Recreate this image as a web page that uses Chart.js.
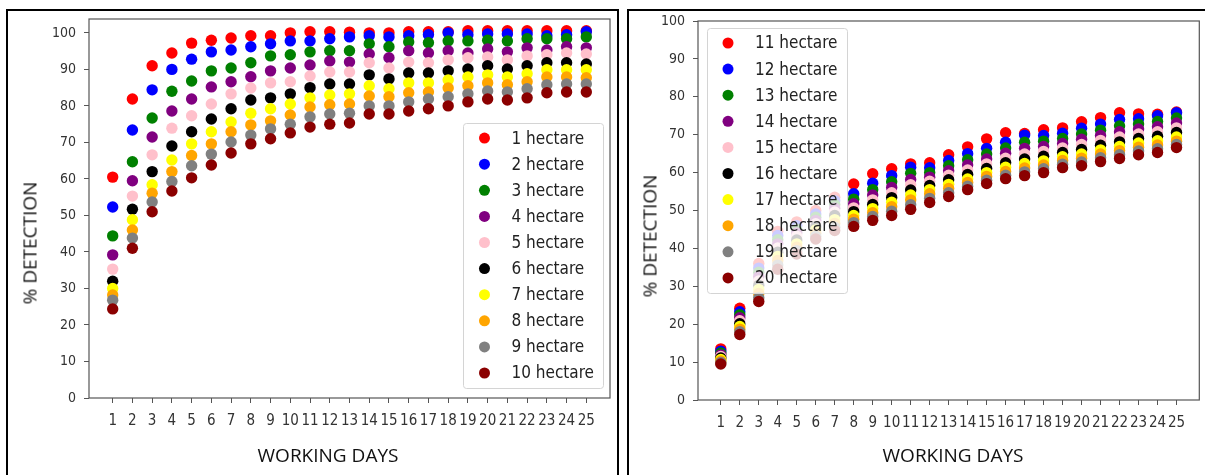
<!DOCTYPE html>
<html>
<head>
<meta charset="utf-8">
<script src="https://cdn.jsdelivr.net/npm/chart.js@4.4.0/dist/chart.umd.min.js"></script>
<style>
  body { margin: 0; background: #fff; }
  #page { position: relative; width: 1205px; height: 475px; overflow: hidden; }
  .frame { position: absolute; border: 2px solid #000; box-sizing: border-box; }
  canvas { position: absolute; top: 0; }
  .title { position: absolute; font-family: "Open Sans"; font-size: 19px; line-height: 1; color: #111; white-space: nowrap; transform: translate(-50%, -50%); }
  .title.v { transform: translate(-50%, -50%) rotate(-90deg); }
</style>
</head>
<body>
<div id="page">
  <div class="frame" style="left:6px; top:9px; width:613px; height:520px;"></div>
  <div class="frame" style="left:627px; top:9px; width:600px; height:520px;"></div>
  <canvas id="left" width="620" height="475" style="left:0px"></canvas>
  <canvas id="right" width="585" height="475" style="left:620px"></canvas>
  <div class="title v" style="left:30px; top:243px;">% DETECTION</div>
  <div class="title" style="left:328px; top:455px;">WORKING DAYS</div>
  <div class="title v" style="left:650px; top:236px;">% DETECTION</div>
  <div class="title" style="left:953px; top:455px;">WORKING DAYS</div>
</div>
<script>
var days = [1, 2, 3, 4, 5, 6, 7, 8, 9, 10, 11, 12, 13, 14, 15, 16, 17, 18, 19, 20, 21, 22, 23, 24, 25];
var yTicks = [0, 10, 20, 30, 40, 50, 60, 70, 80, 90, 100];
var colors = ['#ff0000', '#0000ff', '#008000', '#800080', '#ffc0cb', '#000000', '#ffff00', '#ffa500', '#808080', '#8b0000'];

var leftNames = ['1 hectare', '2 hectare', '3 hectare', '4 hectare', '5 hectare', '6 hectare', '7 hectare', '8 hectare', '9 hectare', '10 hectare'];
var rightNames = ['11 hectare', '12 hectare', '13 hectare', '14 hectare', '15 hectare', '16 hectare', '17 hectare', '18 hectare', '19 hectare', '20 hectare'];

// % detection per working day, 1 to 10 hectare
var ha1 = [60.5, 81.9, 91.0, 94.5, 97.2, 98.0, 98.6, 99.2, 99.2, 100.0, 100.3, 100.3, 100.2, 100.0, 100.0, 100.3, 100.3, 100.3, 100.6, 100.6, 100.6, 100.6, 100.6, 100.6, 100.6];
var ha2 = [52.3, 73.4, 84.4, 90.0, 92.8, 94.8, 95.3, 96.2, 97.0, 97.8, 97.8, 98.4, 98.9, 99.2, 98.9, 99.2, 99.5, 100.0, 99.5, 99.7, 99.7, 99.7, 99.2, 99.5, 100.3];
var ha3 = [44.4, 64.7, 76.7, 84.0, 86.8, 89.6, 90.4, 91.8, 93.7, 94.0, 94.8, 95.1, 95.1, 97.0, 96.2, 97.5, 97.3, 97.8, 97.8, 98.0, 97.8, 98.4, 98.4, 98.4, 98.9];
var ha4 = [39.2, 59.5, 71.5, 78.6, 81.9, 85.2, 86.6, 88.0, 89.6, 90.4, 91.2, 92.3, 92.0, 94.2, 93.2, 95.1, 94.5, 95.1, 94.5, 95.6, 94.8, 95.9, 95.3, 96.2, 95.9];
var ha5 = [35.3, 55.3, 66.6, 73.9, 77.3, 80.5, 83.3, 84.9, 86.3, 86.6, 88.2, 89.3, 89.3, 91.8, 90.4, 92.0, 91.8, 92.6, 93.2, 93.4, 92.6, 93.7, 94.0, 94.5, 94.2];
var ha6 = [32.0, 51.7, 62.0, 69.0, 72.9, 76.4, 79.2, 81.6, 82.2, 83.3, 85.0, 86.0, 86.0, 88.5, 87.4, 89.0, 89.0, 89.6, 90.1, 91.0, 90.1, 91.0, 91.8, 91.8, 91.5];
var ha7 = [30.0, 48.8, 58.4, 65.2, 69.6, 72.9, 75.6, 78.0, 79.2, 80.5, 82.2, 83.0, 83.3, 85.5, 84.7, 86.3, 86.3, 87.1, 87.9, 88.5, 87.9, 88.8, 89.9, 89.9, 89.9];
var ha8 = [28.2, 46.0, 56.1, 62.0, 66.4, 69.6, 72.9, 74.8, 75.9, 77.5, 79.7, 80.3, 80.5, 82.7, 82.5, 83.6, 83.8, 84.9, 85.5, 86.3, 85.8, 86.6, 87.9, 87.9, 87.7];
var ha9 = [26.8, 43.8, 53.7, 59.3, 63.6, 66.8, 70.1, 72.0, 73.7, 75.0, 77.0, 77.8, 78.0, 80.0, 80.0, 81.1, 81.9, 82.5, 83.3, 84.1, 83.8, 84.7, 85.8, 86.0, 86.0];
var ha10 = [24.4, 41.0, 51.0, 56.7, 60.3, 63.8, 67.1, 69.6, 71.0, 72.6, 74.2, 75.0, 75.3, 77.8, 77.8, 78.6, 79.2, 80.0, 81.1, 81.9, 81.6, 82.2, 83.6, 83.8, 83.8];

// % detection per working day, 11 to 20 hectare
var ha11 = [13.5, 24.2, 36.0, 44.5, 47.0, 50.0, 53.5, 57.0, 59.7, 61.0, 62.3, 62.6, 64.7, 66.8, 68.9, 70.5, 70.3, 71.3, 71.8, 73.4, 74.5, 75.8, 75.5, 75.4, 76.0];
var ha12 = [12.9, 23.3, 34.8, 43.4, 46.0, 49.1, 52.6, 54.4, 57.2, 59.2, 61.4, 61.3, 63.2, 65.0, 66.4, 68.0, 69.9, 69.8, 70.4, 71.7, 72.8, 74.0, 74.2, 75.0, 75.8];
var ha13 = [12.4, 22.5, 33.7, 42.3, 45.0, 48.2, 51.6, 53.0, 55.5, 57.6, 59.8, 60.0, 61.8, 63.4, 64.9, 66.5, 68.0, 68.3, 69.0, 70.2, 71.2, 72.3, 72.8, 73.5, 74.4];
var ha14 = [11.9, 21.7, 32.6, 41.2, 44.1, 47.4, 50.6, 51.8, 54.1, 56.1, 58.2, 58.8, 60.5, 62.0, 63.6, 65.1, 66.4, 66.9, 67.7, 68.8, 69.8, 70.8, 71.5, 72.1, 73.1];
var ha15 = [11.5, 20.9, 31.4, 40.1, 43.2, 46.5, 49.6, 50.7, 52.8, 54.7, 56.8, 57.7, 59.3, 60.7, 62.3, 63.8, 64.9, 65.6, 66.5, 67.4, 68.5, 69.4, 70.2, 70.8, 71.8];
var ha16 = [11.1, 20.1, 30.3, 39.0, 42.2, 45.7, 48.7, 49.7, 51.6, 53.4, 55.4, 56.6, 58.1, 59.5, 61.1, 62.6, 63.6, 64.3, 65.3, 66.1, 67.2, 68.1, 69.0, 69.6, 70.6];
var ha17 = [10.7, 19.4, 29.2, 37.9, 41.2, 44.9, 47.6, 48.7, 50.5, 52.2, 54.1, 55.5, 56.9, 58.3, 60.0, 61.4, 62.4, 63.1, 64.2, 64.9, 66.0, 66.9, 67.8, 68.4, 69.4];
var ha18 = [10.3, 18.7, 28.1, 36.8, 40.3, 44.0, 46.6, 47.7, 49.4, 51.0, 52.8, 54.4, 55.8, 57.4, 59.0, 60.3, 61.2, 62.0, 63.2, 63.8, 64.9, 65.8, 66.7, 67.3, 68.3];
var ha19 = [9.9, 18.0, 27.0, 35.6, 39.4, 43.2, 45.6, 46.8, 48.4, 49.8, 51.5, 53.2, 54.7, 56.4, 58.0, 59.3, 60.2, 61.0, 62.2, 62.8, 63.9, 64.7, 65.7, 66.3, 67.4];
var ha20 = [9.5, 17.3, 26.0, 34.5, 38.5, 42.5, 44.7, 45.8, 47.4, 48.7, 50.3, 52.1, 53.7, 55.5, 57.1, 58.4, 59.2, 60.0, 61.3, 61.8, 62.9, 63.7, 64.7, 65.3, 66.6];

var xFont = { family: 'DejaVu Sans Condensed', size: 15 };
var yFont = { family: 'DejaVu Sans Condensed', size: 14 };

// box round the plot area
var axesFrame = {
  id: 'axesFrame',
  afterDatasetsDraw: function(chart) {
    var a = chart.chartArea, ctx = chart.ctx;
    ctx.save();
    ctx.strokeStyle = '#555';
    ctx.lineWidth = 1.2;
    ctx.strokeRect(a.left, a.top, a.right - a.left, a.bottom - a.top);
    ctx.restore();
  }
};

// legend in a rounded, semi-transparent box inside the plot area
var boxLegend = {
  id: 'boxLegend',
  afterDatasetsDraw: function(chart, args, opts) {
    var a = chart.chartArea, ctx = chart.ctx;
    var sets = chart.data.datasets;
    var rowH = 26.1;
    ctx.save();
    ctx.font = '17px "DejaVu Sans Condensed"';
    var textW = 0;
    sets.forEach(function(d) { textW = Math.max(textW, ctx.measureText(d.label).width); });
    var w = 48 + textW + 9;
    var h = (sets.length - 1) * rowH + 30;
    var x0 = opts.corner == 'br' ? a.right - opts.dx - w : a.left + opts.dx;
    var y0 = opts.corner == 'br' ? a.bottom - opts.dy - h : a.top + opts.dy;
    ctx.beginPath();
    ctx.roundRect(Math.round(x0) + 0.5, Math.round(y0) + 0.5, Math.round(w), Math.round(h), 3);
    ctx.fillStyle = 'rgba(255,255,255,0.8)';
    ctx.fill();
    ctx.strokeStyle = '#d4d4d4';
    ctx.lineWidth = 1;
    ctx.stroke();
    ctx.textBaseline = 'middle';
    sets.forEach(function(d, i) {
      var cy = y0 + 15 + i * rowH;
      ctx.beginPath();
      ctx.arc(x0 + 21, cy, 5.5, 0, Math.PI * 2);
      ctx.fillStyle = d.backgroundColor;
      ctx.fill();
      ctx.fillStyle = '#222';
      ctx.fillText(d.label, x0 + 48, cy + 1);
    });
    ctx.restore();
  }
};

function makeChart(id, names, series, yMax, legendOpts, pad, yWidth, xHeight) {
  var datasets = names.map(function(name, i) {
    return {
      label: name,
      data: days.map(function(d, j) { return { x: d, y: series[i][j] }; }),
      backgroundColor: colors[i],
      borderWidth: 0,
      pointRadius: 5.7,
      pointHoverRadius: 5.7,
      order: names.length - i
    };
  });
  return new Chart(document.getElementById(id), {
    type: 'scatter',
    data: { datasets: datasets },
    plugins: [axesFrame, boxLegend],
    options: {
      responsive: false,
      animation: false,
      layout: { padding: pad },
      plugins: {
        legend: { display: false },
        tooltip: { enabled: false },
        boxLegend: legendOpts
      },
      scales: {
        x: {
          type: 'linear',
          min: -0.2,
          max: 26.2,
          afterBuildTicks: function(s) { s.ticks = days.map(function(v) { return { value: v }; }); },
          afterFit: function(s) { s.height = xHeight; },
          grid: { drawOnChartArea: false, drawTicks: true, tickLength: 5, color: '#555' },
          border: { display: false },
          ticks: { autoSkip: false, maxRotation: 0, minRotation: 0, padding: 9, color: '#333', font: xFont,
                   callback: function(v) { return String(v); } }
        },
        y: {
          min: 0,
          max: yMax,
          afterBuildTicks: function(s) { s.ticks = yTicks.map(function(v) { return { value: v }; }); },
          afterFit: function(s) { s.width = yWidth; },
          grid: { drawOnChartArea: false, drawTicks: true, tickLength: 5, color: '#555' },
          border: { display: false },
          ticks: { padding: 8, color: '#333', font: yFont, callback: function(v) { return String(v); } }
        }
      }
    }
  });
}

makeChart('left', leftNames, [ha1, ha2, ha3, ha4, ha5, ha6, ha7, ha8, ha9, ha10], 103.8,
  { corner: 'br', dx: 7, dy: 10 }, { top: 19, right: 10, left: 0, bottom: 0 }, 89, 77);
makeChart('right', rightNames, [ha11, ha12, ha13, ha14, ha15, ha16, ha17, ha18, ha19, ha20], 100,
  { corner: 'tl', dx: 9, dy: 7 }, { top: 21, right: 1, left: 0, bottom: 0 }, 78, 75);
</script>
</body>
</html>
